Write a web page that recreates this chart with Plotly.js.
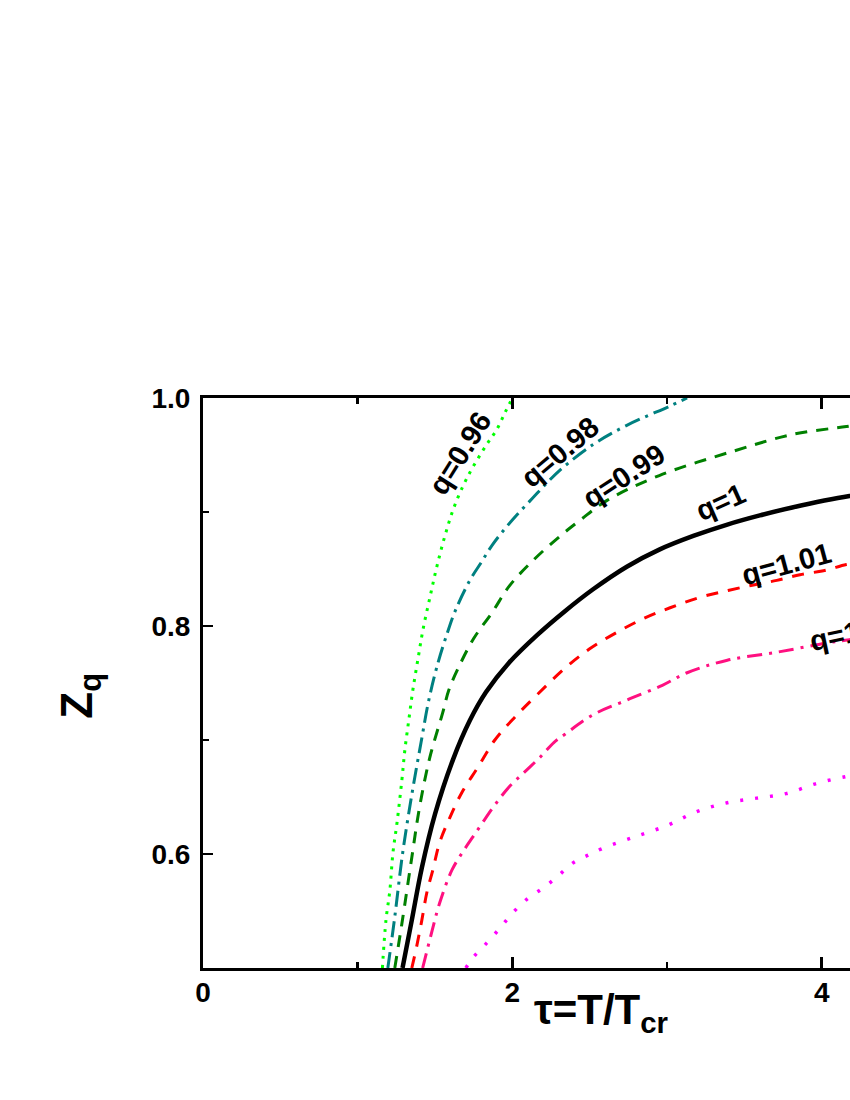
<!DOCTYPE html>
<html>
<head>
<meta charset="utf-8">
<script src="https://cdn.plot.ly/plotly-3.0.1.min.js"></script>
<style>
  html, body { margin: 0; padding: 0; background: #fff; overflow: hidden; }
  #chart { width: 960px; height: 1100px; }
</style>
</head>
<body>
<div id="chart"></div>
<script>
// Z_q vs tau = T/T_cr
const tau096 = [1.16, 1.183, 1.208, 1.228, 1.254, 1.286, 1.305, 1.331, 1.357, 1.391, 1.424, 1.467, 1.51, 1.564, 1.628, 1.715, 1.833, 1.898, 1.952, 2.0];
const z096 = [0.5, 0.542, 0.568, 0.601, 0.627, 0.665, 0.691, 0.718, 0.744, 0.772, 0.798, 0.825, 0.851, 0.879, 0.906, 0.932, 0.959, 0.972, 0.987, 1.0];

const tau098 = [1.195, 1.24, 1.29, 1.35, 1.41, 1.46, 1.52, 1.58, 1.63, 1.725, 1.80, 1.87, 1.95, 2.04, 2.13, 2.22, 2.31, 2.52, 2.74, 3.02, 3.13];
const z098 = [0.5, 0.545, 0.6, 0.652, 0.698, 0.735, 0.768, 0.794, 0.813, 0.84, 0.856, 0.871, 0.885, 0.899, 0.912, 0.925, 0.937, 0.959, 0.976, 0.993, 1.0];

const tau099 = [1.24, 1.286, 1.35, 1.40, 1.467, 1.55, 1.59, 1.65, 1.75, 1.87, 1.98, 2.13, 2.31, 2.44, 2.61, 2.95, 3.42, 3.81, 4.16, 4.3];
const z099 = [0.5, 0.539, 0.597, 0.641, 0.685, 0.724, 0.744, 0.763, 0.789, 0.812, 0.835, 0.857, 0.879, 0.893, 0.910, 0.932, 0.953, 0.968, 0.975, 0.978];

const tau100 = [1.29, 1.35, 1.415, 1.50, 1.617, 1.725, 1.83, 1.98, 2.16, 2.34, 2.52, 2.74, 2.95, 3.17, 3.39, 3.60, 3.81, 4.18, 4.3];
const z100 = [0.5, 0.542, 0.588, 0.635, 0.683, 0.717, 0.742, 0.768, 0.792, 0.813, 0.832, 0.852, 0.867, 0.879, 0.889, 0.897, 0.904, 0.914, 0.916];

const tau101 = [1.35, 1.38, 1.415, 1.447, 1.486, 1.53, 1.596, 1.674, 1.777, 1.887, 2.016, 2.17, 2.34, 2.50, 2.67, 2.84, 3.02, 3.21, 3.39, 3.56, 3.71, 3.86, 4.03, 4.16, 4.3];
const z101 = [0.5, 0.518, 0.542, 0.566, 0.586, 0.610, 0.632, 0.654, 0.676, 0.700, 0.720, 0.741, 0.763, 0.780, 0.794, 0.806, 0.816, 0.825, 0.831, 0.836, 0.840, 0.845, 0.849, 0.854, 0.856];

const tau102 = [1.42, 1.478, 1.53, 1.61, 1.69, 1.745, 1.82, 1.887, 1.98, 2.08, 2.18, 2.27, 2.34, 2.52, 2.74, 2.97, 3.13, 3.39, 3.71, 4.03, 4.18, 4.3];
const z102 = [0.5, 0.531, 0.557, 0.586, 0.604, 0.615, 0.63, 0.643, 0.659, 0.672, 0.685, 0.698, 0.705, 0.722, 0.735, 0.748, 0.759, 0.770, 0.777, 0.785, 0.788, 0.79];

const tau103 = [1.70, 1.745, 1.835, 1.92, 2.0, 2.10, 2.197, 2.29, 2.39, 2.49, 2.585, 2.79, 3.0, 3.19, 3.39, 3.58, 3.77, 3.97, 4.16, 4.3];
const z103 = [0.5, 0.509, 0.522, 0.535, 0.548, 0.561, 0.570, 0.580, 0.592, 0.599, 0.605, 0.615, 0.625, 0.637, 0.645, 0.649, 0.653, 0.662, 0.668, 0.671];

const curveLabels = ['q=0.96', 'q=0.98', 'q=0.99', 'q=1', 'q=1.01', 'q=1.02'];
const labelTau = [1.661, 2.307, 2.72, 3.347, 3.774, 4.213];
const labelZ = [0.952, 0.953, 0.932, 0.909, 0.854, 0.795];
const labelAngle = [-58, -40, -33, -24, -15, -12];

const xTickVals = [0, 2, 4];
const yTickVals = [0.6, 0.8, 1.0];
const yTickText = ['0.6', '0.8', '1.0'];

const series = [
  { x: tau096, y: z096, color: '#00ff00', width: 3, dash: '3px,6px' },
  { x: tau098, y: z098, color: '#008080', width: 3, dash: '16px,6px,3px,6px' },
  { x: tau099, y: z099, color: '#008000', width: 3, dash: '12px,9px' },
  { x: tau100, y: z100, color: '#000000', width: 4.5, dash: 'solid' },
  { x: tau101, y: z101, color: '#ff0000', width: 3, dash: '12px,10px' },
  { x: tau102, y: z102, color: '#ff1080', width: 3, dash: '15px,7px,3px,7px' },
  { x: tau103, y: z103, color: '#ff00ff', width: 3.5, dash: '3px,12px' }
];

const traces = series.map(s => ({
  x: s.x,
  y: s.y,
  type: 'scatter',
  mode: 'lines',
  line: { color: s.color, width: s.width, dash: s.dash, shape: 'spline', smoothing: 1 },
  hoverinfo: 'skip'
}));

const boldFont = 'Liberation Sans, Arial, sans-serif';
const tickFont = { family: boldFont, size: 28, color: '#000', weight: 'bold' };
const labelFont = { family: boldFont, size: 29, color: '#000', weight: 'bold' };

const annotations = curveLabels.map((t, i) => ({
  x: labelTau[i],
  y: labelZ[i],
  xref: 'x',
  yref: 'y',
  text: t,
  textangle: labelAngle[i],
  showarrow: false,
  xanchor: 'center',
  yanchor: 'middle',
  font: labelFont
}));

annotations.push({
  xref: 'paper', yref: 'paper',
  x: 0.572, y: -0.078,
  xanchor: 'center', yanchor: 'middle',
  text: 'τ=T/T<sub>cr</sub>',
  showarrow: false,
  font: { family: boldFont, size: 42, color: '#000', weight: 'bold' }
});
annotations.push({
  xref: 'paper', yref: 'paper',
  x: -0.178, y: 0.478,
  xanchor: 'center', yanchor: 'middle',
  text: 'Z<sub>q</sub>',
  textangle: -90,
  showarrow: false,
  font: { family: boldFont, size: 44, color: '#000', weight: 'bold' }
});

const layout = {
  width: 960,
  height: 1100,
  paper_bgcolor: '#fff',
  plot_bgcolor: '#fff',
  margin: { l: 203, r: 60.6, t: 398, b: 132 },
  showlegend: false,
  xaxis: {
    range: [0, 4.5],
    tickmode: 'array',
    tickvals: xTickVals,
    ticks: 'inside',
    ticklen: 11,
    tickwidth: 2.5,
    tickcolor: '#000',
    ticklabelstandoff: -3,
    minor: { tickmode: 'array', tickvals: [1, 3], ticks: 'inside', ticklen: 6, tickwidth: 2.5, tickcolor: '#000' },
    showline: true,
    linecolor: '#000',
    linewidth: 3,
    mirror: 'allticks',
    showgrid: false,
    zeroline: false,
    tickfont: tickFont
  },
  yaxis: {
    range: [0.5, 1.0],
    tickmode: 'array',
    tickvals: yTickVals,
    ticktext: yTickText,
    ticks: 'inside',
    ticklen: 10,
    tickwidth: 2.5,
    tickcolor: '#000',
    ticklabelstandoff: 4,
    minor: { tickmode: 'array', tickvals: [0.7, 0.9], ticks: 'inside', ticklen: 6, tickwidth: 2.5, tickcolor: '#000' },
    showline: true,
    linecolor: '#000',
    linewidth: 3,
    mirror: 'allticks',
    showgrid: false,
    zeroline: false,
    tickfont: tickFont
  },
  annotations: annotations
};

Plotly.newPlot('chart', traces, layout, { displayModeBar: false, staticPlot: true });
</script>
</body>
</html>
